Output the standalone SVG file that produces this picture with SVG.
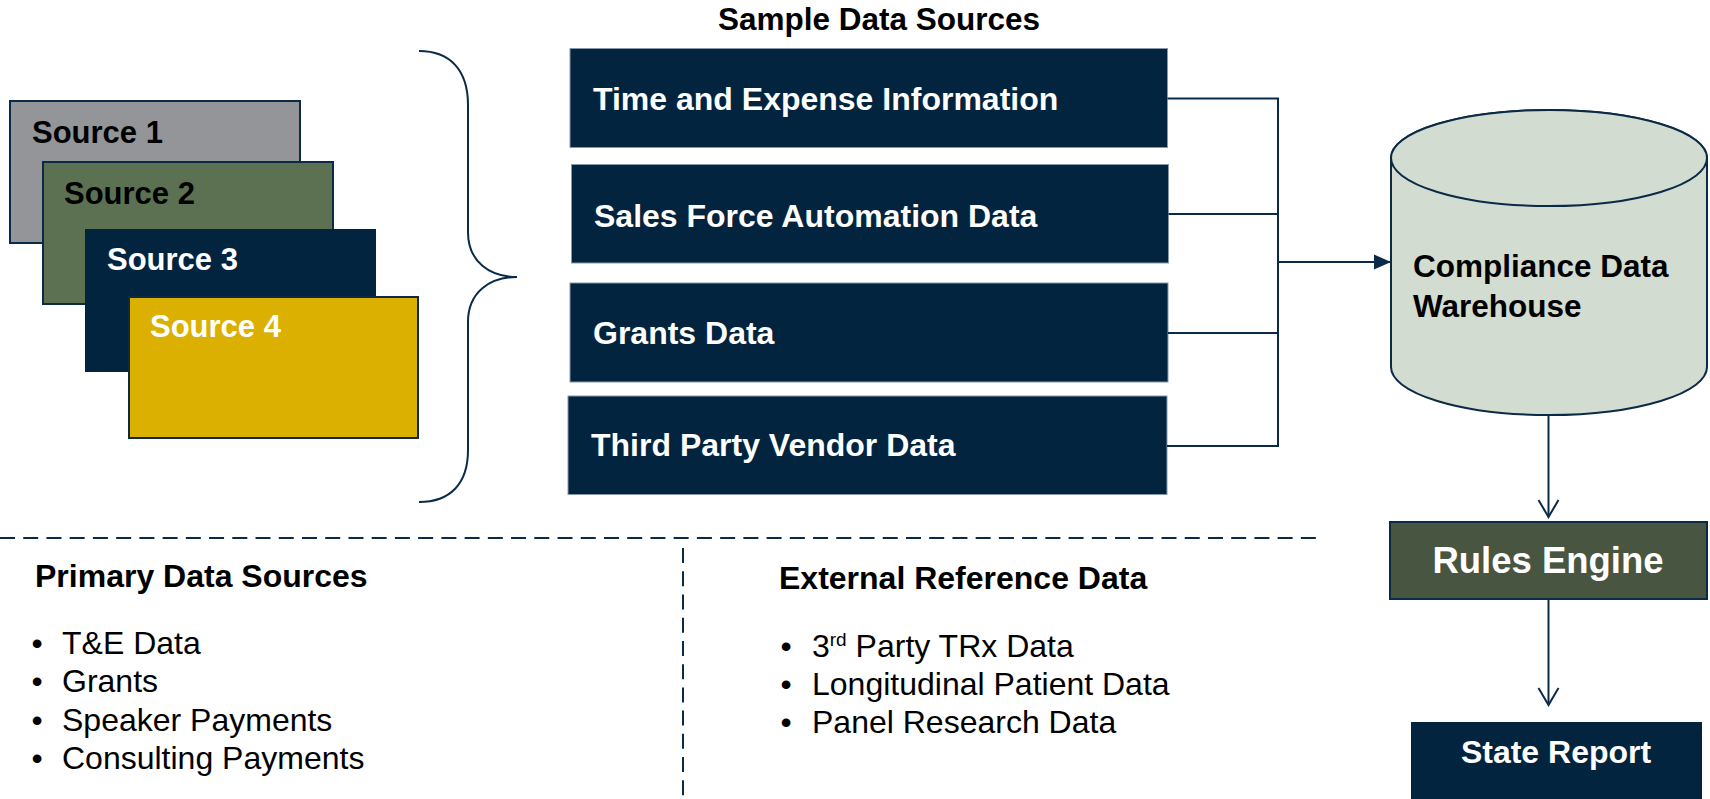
<svg xmlns="http://www.w3.org/2000/svg" width="1710" height="799" viewBox="0 0 1710 799">
  <style>
    .bold { font-family: "Liberation Sans", Arial, sans-serif; font-weight: bold; }
    .reg { font-family: "Liberation Sans", Arial, sans-serif; font-weight: normal; }
    .navy { fill: #02243f; }
    .src { stroke: #0b2a47; stroke-width: 2; }
    .feed { fill: #02243f; stroke: #8798ab; stroke-width: 1; }
    .white { fill: #ffffff; }
    .black { fill: #000000; }
    .wire { fill: none; stroke: #0b2a47; stroke-width: 2; }
    .dash { fill: none; stroke: #0b2a47; stroke-width: 2; stroke-dasharray: 15 8.23; }
  </style>
  <defs>
    <marker id="solidHead" markerUnits="userSpaceOnUse" markerWidth="18" markerHeight="16" refX="17" refY="8" orient="auto" overflow="visible">
      <path d="M0,0.5 L17,8 L0,15.5 Z" fill="#0b2a47"/>
    </marker>
    <marker id="openHead" markerUnits="userSpaceOnUse" markerWidth="20" markerHeight="22" refX="17" refY="10" orient="auto" overflow="visible">
      <path d="M0,0 L17,10 L0,20" fill="none" stroke="#0b2a47" stroke-width="2"/>
    </marker>
  </defs>

  <rect width="1710" height="799" fill="#ffffff"/>

  <!-- stacked source cards -->
  <g id="source-1">
    <rect class="src" x="10" y="101" width="290" height="142" fill="#949598"/>
    <text class="bold black" x="32" y="143" font-size="31">Source 1</text>
  </g>
  <g id="source-2">
    <rect class="src" x="43" y="162" width="290" height="142" fill="#5b7152"/>
    <text class="bold black" x="64" y="204" font-size="31">Source 2</text>
  </g>
  <g id="source-3">
    <rect x="85" y="229" width="291" height="143" class="navy"/>
    <text class="bold white" x="107" y="270" font-size="31">Source 3</text>
  </g>
  <g id="source-4">
    <rect class="src" x="129" y="297" width="289" height="141" fill="#dbb000"/>
    <text class="bold white" x="150" y="337" font-size="31">Source 4</text>
  </g>

  <!-- curly brace grouping the sources -->
  <g id="brace">
    <path class="wire" d="M419,51 C450,51 468,70 468,105 L468,232 C468,262 490,277 517,277 C490,277 468,292 468,322 L468,450 C468,484 450,502 419,502"/>
  </g>

  <!-- sample data source feeds -->
  <g id="sample-title">
    <text class="bold black" x="879" y="30" font-size="31.5" text-anchor="middle">Sample Data Sources</text>
  </g>
  <g id="feed-time-expense">
    <rect class="feed" x="570" y="48.5" width="597.5" height="99"/>
    <text class="bold white" x="593" y="109.5" font-size="32">Time and Expense Information</text>
  </g>
  <g id="feed-sfa">
    <rect class="feed" x="571.5" y="164.5" width="597" height="98.5"/>
    <text class="bold white" x="594" y="226.5" font-size="32">Sales Force Automation Data</text>
  </g>
  <g id="feed-grants">
    <rect class="feed" x="570" y="283" width="598" height="99"/>
    <text class="bold white" x="593" y="344" font-size="32">Grants Data</text>
  </g>
  <g id="feed-vendor">
    <rect class="feed" x="568" y="396" width="599" height="98.5"/>
    <text class="bold white" x="591" y="456" font-size="32">Third Party Vendor Data</text>
  </g>

  <!-- warehouse cylinder -->
  <g id="warehouse">
    <path d="M1391,158 L1391,367 A158,48 0 0 0 1707,367 L1707,158 A158,48 0 0 0 1391,158 Z" fill="#d2dcd0" stroke="#0b2a47" stroke-width="2"/>
    <ellipse cx="1549" cy="158" rx="158" ry="48" fill="#d2dcd0" stroke="#0b2a47" stroke-width="2"/>
    <text class="bold black" font-size="31.5">
      <tspan x="1413" y="277">Compliance Data</tspan>
      <tspan x="1413" y="317">Warehouse</tspan>
    </text>
  </g>

  <g id="rules-engine">
    <rect x="1390" y="522" width="317" height="77" fill="#475541" stroke="#0b2a47" stroke-width="2"/>
    <text class="bold white" x="1548" y="573" font-size="36.5" text-anchor="middle">Rules Engine</text>
  </g>

  <g id="state-report">
    <rect x="1411" y="722" width="291" height="80" class="navy"/>
    <text class="bold white" x="1556" y="763" font-size="32" text-anchor="middle">State Report</text>
  </g>

  <!-- flow connectors -->
  <g id="connectors">
    <path class="wire" d="M1167.5,98.5 L1278,98.5 L1278,446 L1167,446"/>
    <path class="wire" d="M1168.5,214 L1278,214"/>
    <path class="wire" d="M1168,333 L1278,333"/>
    <path class="wire" d="M1278,262 L1391,262" marker-end="url(#solidHead)"/>
    <path class="wire" d="M1548.5,415 L1548.5,517" marker-end="url(#openHead)"/>
    <path class="wire" d="M1548.5,599 L1548.5,705" marker-end="url(#openHead)"/>
  </g>

  <!-- section dividers -->
  <g id="dividers">
    <path class="dash" d="M0,538 L1316,538"/>
    <path class="dash" d="M683,548 L683,799"/>
  </g>

  <g id="primary-sources">
    <text class="bold black" x="35" y="587" font-size="32">Primary Data Sources</text>
    <g class="reg black" font-size="32">
      <text x="31.5" y="653.5">•</text><text x="62" y="653.5">T&amp;E Data</text>
      <text x="31.5" y="692">•</text><text x="62" y="692">Grants</text>
      <text x="31.5" y="730.5">•</text><text x="62" y="730.5">Speaker Payments</text>
      <text x="31.5" y="768.5">•</text><text x="62" y="768.5">Consulting Payments</text>
    </g>
  </g>

  <g id="external-reference">
    <text class="bold black" x="779" y="588.5" font-size="32">External Reference Data</text>
    <g class="reg black" font-size="32">
      <text x="780.5" y="657">•</text><text x="812" y="657">3<tspan font-size="19" dy="-11">rd</tspan><tspan dy="11"> Party TRx Data</tspan></text>
      <text x="780.5" y="695">•</text><text x="812" y="695">Longitudinal Patient Data</text>
      <text x="780.5" y="733">•</text><text x="812" y="733">Panel Research Data</text>
    </g>
  </g>
</svg>
